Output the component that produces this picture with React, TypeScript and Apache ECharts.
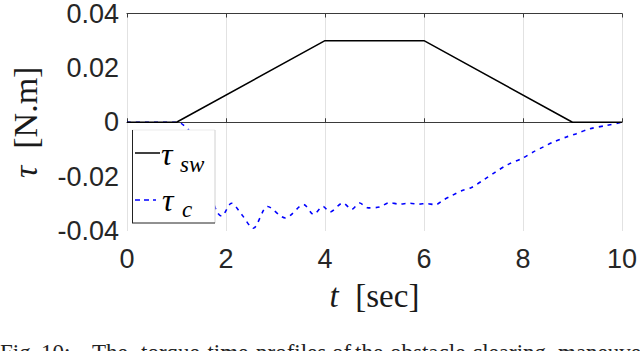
import React, { useEffect, useRef } from "react";
import * as echarts from "echarts";

const swTime = [0, 1, 4, 6, 9, 10];
const swTorque = [0, 0, 0.03, 0.03, 0, 0];

const cTime = [0, 1.0, 1.1, 1.15, 1.25, 1.4, 1.55, 1.7, 1.82, 1.91, 2.11, 2.32, 2.55, 2.84, 3.2, 3.57, 3.77, 3.96, 4.1, 4.36, 4.54, 4.7, 4.87, 5.1, 5.3, 5.5, 5.7, 5.9, 6.05, 6.23, 6.4, 6.56, 6.76, 6.96, 7.22, 7.42, 7.69, 7.99, 8.22, 8.42, 8.62, 8.88, 9.08, 9.35, 9.68, 9.95, 10];
const cTorque = [0, 0, -0.0005, -0.0012, -0.003, -0.009, -0.018, -0.027, -0.033, -0.0345, -0.0298, -0.034, -0.039, -0.031, -0.0352, -0.0303, -0.0339, -0.031, -0.033, -0.0297, -0.032, -0.0297, -0.0315, -0.0312, -0.0296, -0.0301, -0.0298, -0.0301, -0.0299, -0.0303, -0.0285, -0.027, -0.0252, -0.024, -0.021, -0.0186, -0.0156, -0.0132, -0.0108, -0.009, -0.0072, -0.0054, -0.0042, -0.0024, -0.0012, -0.0002, 0];

const xTicks = [0, 2, 4, 6, 8, 10];
const yTickLabels = ["-0.04", "-0.02", "0", "0.02", "0.04"];

const captionWords = ["Fig.", "10:", "The", "torque-time", "profiles", "of", "the", "obstacle", "clearing", "maneuver."];

export default function App() {
  const ref = useRef<HTMLDivElement>(null);
  useEffect(() => {
    if (!ref.current) return;
    const chart = echarts.init(ref.current, undefined, { renderer: "svg" });
    const sans = "Liberation Sans";
    const serif = "Liberation Serif";
    const captionX = [0, 41, 92, 141, 256, 332, 355, 390, 472, 558];
    const Z = 100;
    chart.setOption({
      animation: false,
      backgroundColor: "#fff",
      grid: { left: 124, right: 14, top: 9, bottom: 120, containLabel: false },
      xAxis: [
        {
          type: "value",
          min: 0,
          max: 10,
          interval: 2,
          position: "bottom",
          name: "{i|t}  [sec]",
          nameLocation: "middle",
          nameGap: 48,
          nameTextStyle: {
            fontFamily: serif,
            fontSize: 33,
            color: "#1a1a1a",
            verticalAlign: "top",
            rich: { i: { fontFamily: serif, fontStyle: "italic", fontSize: 33, color: "#1a1a1a" } },
          },
          axisLine: { show: true, lineStyle: { color: "#3a3a3a", width: 1.2 } },
          axisTick: { show: true, inside: true, length: 4, lineStyle: { color: "#3a3a3a" } },
          axisLabel: {
            fontFamily: sans,
            fontSize: 27,
            color: "#262626",
            margin: 14,
            formatter: (v: number) => (xTicks.includes(v) ? String(v) : ""),
          },
          splitLine: { show: true, lineStyle: { color: "#e2e2e2", width: 1 } },
        },
        {
          type: "value",
          min: 0,
          max: 10,
          interval: 2,
          position: "top",
          axisLine: { show: true, lineStyle: { color: "#3a3a3a", width: 1.2 } },
          axisTick: { show: true, inside: true, length: 4, lineStyle: { color: "#3a3a3a" } },
          axisLabel: { show: false },
          splitLine: { show: false },
        },
      ],
      yAxis: {
        type: "value",
        min: -0.04,
        max: 0.04,
        interval: 0.02,
        name: "{i|τ}  [N.m]",
        nameLocation: "middle",
        nameRotate: 90,
        nameGap: 85,
        nameTextStyle: {
          fontFamily: serif,
          fontSize: 34,
          color: "#1a1a1a",
          rich: { i: { fontFamily: serif, fontStyle: "italic", fontSize: 34, color: "#1a1a1a" } },
        },
        axisLine: { show: false },
        axisTick: { show: false },
        axisLabel: {
          fontFamily: sans,
          fontSize: 27,
          color: "#262626",
          margin: 8,
          formatter: (v: number) => {
            const idx = Math.round((v + 0.04) / 0.02);
            return yTickLabels[idx] ?? "";
          },
        },
        splitLine: {
          show: true,
          lineStyle: { color: ["transparent", "transparent", "#e2e2e2", "transparent", "transparent"], width: 1 },
        },
      },
      series: [
        {
          type: "line",
          name: "tau_c",
          data: cTime.map((t, i) => [t, cTorque[i]]),
          showSymbol: false,
          smooth: 0.3,
          lineStyle: { color: "#0000ff", width: 1.6, type: [4, 5] },
          z: 2,
        },
        {
          type: "line",
          name: "tau_sw",
          data: swTime.map((t, i) => [t, swTorque[i]]),
          showSymbol: false,
          lineStyle: { color: "#000", width: 1.5 },
          z: 3,
        },
      ],
      graphic: [
        { type: "rect", z: Z, shape: { x: 132, y: 130, width: 83, height: 93 }, style: { fill: "#fff" } },
        { type: "line", z: Z, shape: { x1: 132, y1: 130, x2: 215, y2: 130 }, style: { stroke: "#ececec", lineWidth: 1 } },
        { type: "line", z: Z, shape: { x1: 215, y1: 130, x2: 215, y2: 223 }, style: { stroke: "#d0d0d0", lineWidth: 1 } },
        { type: "line", z: Z, shape: { x1: 132.5, y1: 130, x2: 132.5, y2: 223 }, style: { stroke: "#222", lineWidth: 1 } },
        { type: "line", z: Z, shape: { x1: 132, y1: 223, x2: 215, y2: 223 }, style: { stroke: "#222", lineWidth: 1 } },
        { type: "line", z: Z, shape: { x1: 135, y1: 153, x2: 160, y2: 153 }, style: { stroke: "#000", lineWidth: 1.5 } },
        { type: "line", z: Z, shape: { x1: 135, y1: 200, x2: 156, y2: 200 }, style: { stroke: "#0000ff", lineWidth: 1.5, lineDash: [5, 4] } },
        { type: "text", z: Z, x: 161, y: 154, style: { text: "τ", font: `italic 32px ${serif}`, fill: "#000", verticalAlign: "middle" } },
        { type: "text", z: Z, x: 180, y: 164, style: { text: "sw", font: `italic 23px ${serif}`, fill: "#000", verticalAlign: "middle" } },
        { type: "text", z: Z, x: 162, y: 200, style: { text: "τ", font: `italic 32px ${serif}`, fill: "#000", verticalAlign: "middle" } },
        { type: "text", z: Z, x: 182, y: 209, style: { text: "c", font: `italic 23px ${serif}`, fill: "#000", verticalAlign: "middle" } },
        ...captionWords.map((w, i) => ({
          type: "text",
          z: Z,
          x: captionX[i],
          y: 341,
          style: { text: w, font: `23px ${serif}`, fill: "#222", verticalAlign: "top" },
        })),
      ],
    });
    return () => chart.dispose();
  }, []);
  return (
    <div
      ref={ref}
      style={{ position: "fixed", left: 0, top: 0, width: 640, height: 351, background: "#fff" }}
    />
  );
}
